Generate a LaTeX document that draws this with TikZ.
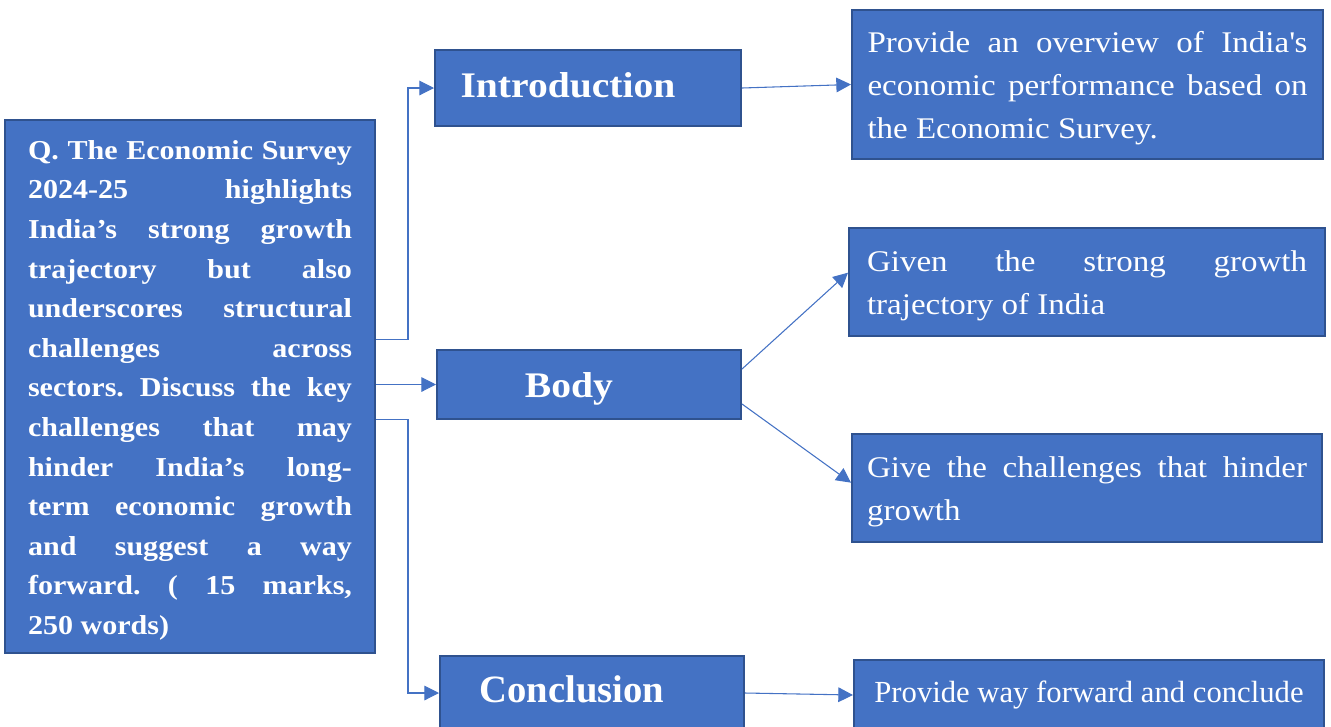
\documentclass[tikz,border=0pt]{standalone}
\usepackage{fontspec}
\setmainfont{Liberation Serif}[FakeStretch=1.1]
\newfontfamily\narrowfont{Liberation Serif}
\usetikzlibrary{arrows.meta}
\tolerance=10000
\hbadness=10000
\frenchspacing

\definecolor{boxblue}{HTML}{4472C4}
\definecolor{edgeblue}{HTML}{2F528F}

\tikzset{
  box/.style={draw=edgeblue, line width=1.5pt, fill=boxblue, text=white, inner sep=0pt},
  qbox/.style={box, text width=243pt, align=justify,
    font=\bfseries\fontsize{20.5}{29.7}\selectfont,
    execute at begin node={\rule{0pt}{20pt}}},
  headbox/.style={box, font=\bfseries\fontsize{27}{32}\selectfont,
    text height=19pt, text depth=5pt,
    execute at end node={\hspace{30pt}}},
  descbox/.style={box, text width=330pt, align=justify,
    font=\fontsize{22.5}{32.25}\selectfont,
    execute at begin node={\rule{0pt}{21.5pt}}},
  conn/.style={draw=boxblue, line width=0.8pt, -{Triangle[length=11pt,width=11pt]}}
}

\begin{document}
\begin{tikzpicture}[x=0.75pt,y=-0.75pt]
\useasboundingbox (0,0) rectangle (1331,726);

% question
\node[qbox, minimum width=277.5pt, minimum height=399.75pt] (q) at (190,386.5)
  {Q. The Economic Survey\linebreak 2024-25 highlights\linebreak India’s strong growth\linebreak
   trajectory but also\linebreak underscores structural\linebreak challenges across\linebreak
   sectors. Discuss the key\linebreak challenges that may\linebreak hinder India’s long-\linebreak
   term economic growth\linebreak and suggest a way\linebreak forward. ( 15 marks,\linebreak 250 words)};

% parts of the answer
\node[headbox, minimum width=229.5pt, minimum height=57pt] (intro) at (588,88) {Introduction};
\node[headbox, text depth=0pt, minimum width=228pt, minimum height=51.75pt] (body) at (589,384.5) {Body};
\node[headbox, font=\narrowfont\bfseries\fontsize{29}{32}\selectfont,
  minimum width=228pt, minimum height=55.5pt] (concl) at (592,693) {Conclusion};

% what goes in each part
\node[descbox, minimum width=353.25pt, minimum height=111.75pt] (overview) at (1087.5,84.5)
  {Provide an overview of India\textquotesingle s\linebreak economic performance based on\linebreak the Economic Survey.};
\node[descbox, minimum width=357pt, minimum height=81pt] (growth) at (1087,282)
  {Given the strong growth\linebreak trajectory of India};
\node[descbox, minimum width=352.5pt, minimum height=81pt] (hurdles) at (1087,488)
  {Give the challenges that hinder\linebreak growth};
\node[box, font=\narrowfont\fontsize{23}{30}\selectfont,
  minimum width=352.5pt, minimum height=52.5pt] (way) at (1089,695)
  {Provide way forward and conclude};

% connectors
\draw[conn] ([yshift=35pt]q.east) -- ++(32,0) |- (intro.west);
\draw[conn] (q.east |- body.west) -- (body.west);
\draw[conn] ([yshift=-25pt]q.east) -- ++(32,0) |- (concl.west);
\draw[conn] (intro.east) -- (overview.west);
\draw[conn] ([yshift=-15pt]body.north east) -- ([yshift=7pt]growth.west);
\draw[conn] ([yshift=12pt]body.south east) -- ([yshift=4pt]hurdles.west);
\draw[conn] (concl.east) -- (way.west);
\end{tikzpicture}
\end{document}
